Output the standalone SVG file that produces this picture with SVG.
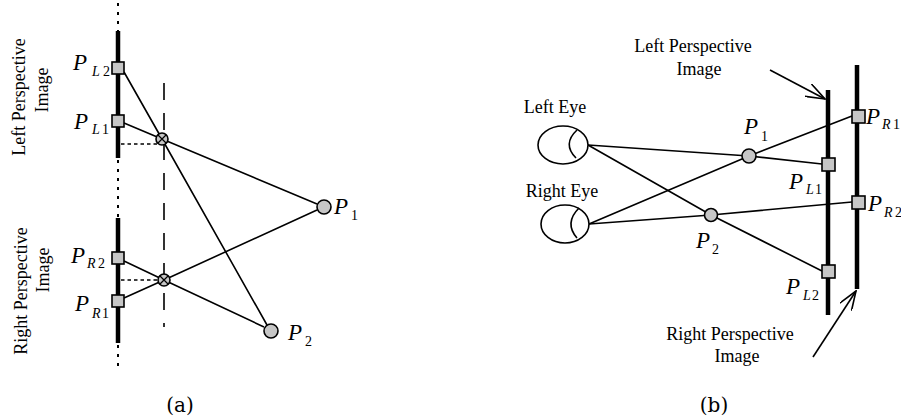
<svg xmlns="http://www.w3.org/2000/svg" width="901" height="419" viewBox="0 0 901 419">
  <style>
    .ln { stroke:#000; stroke-width:1.6; fill:none; }
    .bar { stroke:#000; stroke-width:4.5; fill:none; }
    .dot { stroke:#000; stroke-width:2; stroke-dasharray:3 6; fill:none; }
    .hdot { stroke:#000; stroke-width:1.4; stroke-dasharray:3.5 3; fill:none; }
    .dash { stroke:#000; stroke-width:1.6; stroke-dasharray:17 13; fill:none; }
    .sq { fill:#c6c6c6; stroke:#000; stroke-width:1.6; }
    .pt { fill:#c6c6c6; stroke:#000; stroke-width:1.6; }
    .eye { fill:#fff; stroke:#000; stroke-width:1.6; }
    .lbl { font-family:"Liberation Serif","Times New Roman",serif; font-size:18px; fill:#000; }
    .cap { font-family:"DejaVu Serif","Liberation Serif",serif; font-size:20px; fill:#000; }
    .p { font-family:"Liberation Serif","Times New Roman",serif; font-style:italic; font-size:23px; fill:#000; }
    .s { font-size:14px; }
    .n { font-style:normal; }
  </style>
  <defs>
    <marker id="open" viewBox="0 0 20 14" refX="19" refY="7" markerWidth="20" markerHeight="14" markerUnits="userSpaceOnUse" orient="auto">
      <path d="M0,0 L19,7 L0,14" fill="none" stroke="#000" stroke-width="1.6"/>
    </marker>
    <g id="cross">
      <circle r="6" fill="#c6c6c6" stroke="#000" stroke-width="1.6"/>
      <path d="M-4,-4 L4,4 M-4,4 L4,-4" stroke="#000" stroke-width="1.2"/>
    </g>
  </defs>

  <!-- ===== (a) top view of the two image planes ===== -->
  <g id="a-planes">
    <line class="dot" x1="118" y1="3" x2="118" y2="31"/>
    <line class="bar" x1="118" y1="31" x2="118" y2="158"/>
    <line class="dot" x1="118" y1="160" x2="118" y2="200"/>
    <line class="dot" x1="118" y1="205" x2="118" y2="218"/>
    <line class="bar" x1="118" y1="218" x2="118" y2="343"/>
    <line class="dot" x1="118" y1="345" x2="118" y2="370"/>
    <line class="dash" x1="164" y1="83" x2="164" y2="327"/>
    <text class="lbl" transform="translate(25,97) rotate(-90)" text-anchor="middle">Left Perspective</text>
    <text class="lbl" transform="translate(48,90) rotate(-90)" text-anchor="middle">Image</text>
    <text class="lbl" transform="translate(27,291) rotate(-90)" text-anchor="middle">Right Perspective</text>
    <text class="lbl" transform="translate(49,270) rotate(-90)" text-anchor="middle">Image</text>
    <text class="cap" x="180" y="412" text-anchor="middle">(a)</text>
  </g>

  <g id="a-connectors">
    <polyline class="ln" points="124,123 162,139 317,204"/>
    <polyline class="ln" points="124,72 162,139 267,325"/>
    <polyline class="ln" points="124,261 164,280 264,327"/>
    <polyline class="ln" points="124,298 164,280 317,210"/>
    <line class="hdot" x1="121" y1="144" x2="158" y2="144"/>
    <line class="hdot" x1="121" y1="280" x2="158" y2="280"/>
  </g>

  <g id="a-PL2">
    <rect class="sq" x="112" y="62" width="12" height="12"/>
    <text class="p" x="73" y="70">P<tspan class="s" x="92" y="76">L</tspan><tspan class="s n" x="103" y="76">2</tspan></text>
  </g>
  <g id="a-PL1">
    <rect class="sq" x="112" y="115" width="12" height="12"/>
    <text class="p" x="74" y="129">P<tspan class="s" x="92" y="134">L</tspan><tspan class="s n" x="102" y="134">1</tspan></text>
  </g>
  <g id="a-PR2">
    <rect class="sq" x="112" y="252" width="12" height="12"/>
    <text class="p" x="71" y="263">P<tspan class="s" x="87" y="268">R</tspan><tspan class="s n" x="98" y="268">2</tspan></text>
  </g>
  <g id="a-PR1">
    <rect class="sq" x="112" y="295" width="12" height="12"/>
    <text class="p" x="75" y="311">P<tspan class="s" x="92" y="318">R</tspan><tspan class="s n" x="102" y="318">1</tspan></text>
  </g>
  <g id="a-X1"><use href="#cross" x="162" y="139"/></g>
  <g id="a-X2"><use href="#cross" x="164" y="280"/></g>
  <g id="a-P1">
    <circle class="pt" cx="324" cy="207" r="7"/>
    <text class="p" x="334" y="214">P<tspan class="s n" x="351" y="220">1</tspan></text>
  </g>
  <g id="a-P2">
    <circle class="pt" cx="271" cy="331" r="7"/>
    <text class="p" x="288" y="340">P<tspan class="s n" x="305" y="346">2</tspan></text>
  </g>

  <!-- ===== (b) eyes and image planes ===== -->
  <g id="b-planes">
    <line class="bar" x1="828" y1="90" x2="828" y2="315"/>
    <line class="bar" x1="857" y1="65" x2="857" y2="289"/>
    <text class="lbl" x="693" y="52" text-anchor="middle">Left Perspective</text>
    <text class="lbl" x="699" y="75" text-anchor="middle">Image</text>
    <text class="lbl" x="730" y="340" text-anchor="middle">Right Perspective</text>
    <text class="lbl" x="737" y="362" text-anchor="middle">Image</text>
    <text class="cap" x="714" y="412" text-anchor="middle">(b)</text>
  </g>

  <g id="b-connectors">
    <polyline class="ln" points="588,145 749,156 822,164"/>
    <polyline class="ln" points="588,145 711,215 822,271"/>
    <polyline class="ln" points="589,224 749,156 852,116"/>
    <polyline class="ln" points="589,224 711,215 852,202"/>
    <line class="ln" x1="770" y1="70" x2="825" y2="99" marker-end="url(#open)"/>
    <line class="ln" x1="813" y1="357" x2="856" y2="291" marker-end="url(#open)"/>
  </g>

  <g id="b-left-eye">
    <ellipse class="eye" cx="563" cy="145" rx="25" ry="19"/>
    <path class="ln" d="M577,130 Q562,144 576,158"/>
    <text class="lbl" x="555" y="113" text-anchor="middle">Left Eye</text>
  </g>
  <g id="b-right-eye">
    <ellipse class="eye" cx="565" cy="224" rx="24" ry="19"/>
    <path class="ln" d="M579,208 Q564,223 577,238"/>
    <text class="lbl" x="562" y="197" text-anchor="middle">Right Eye</text>
  </g>
  <g id="b-P1">
    <circle class="pt" cx="749" cy="156" r="7"/>
    <text class="p" x="744" y="134">P<tspan class="s n" x="761" y="141">1</tspan></text>
  </g>
  <g id="b-P2">
    <circle class="pt" cx="711" cy="215" r="6.5"/>
    <text class="p" x="696" y="248">P<tspan class="s n" x="712" y="254">2</tspan></text>
  </g>
  <g id="b-PL1">
    <rect class="sq" x="822" y="158" width="13" height="13"/>
    <text class="p" x="789" y="189">P<tspan class="s" x="806" y="194">L</tspan><tspan class="s n" x="815" y="194">1</tspan></text>
  </g>
  <g id="b-PL2">
    <rect class="sq" x="822" y="265" width="13" height="13"/>
    <text class="p" x="786" y="294">P<tspan class="s" x="803" y="300">L</tspan><tspan class="s n" x="812" y="300">2</tspan></text>
  </g>
  <g id="b-PR1">
    <rect class="sq" x="852" y="110" width="13" height="13"/>
    <text class="p" x="866" y="124">P<tspan class="s" x="882" y="129">R</tspan><tspan class="s n" x="893" y="129">1</tspan></text>
  </g>
  <g id="b-PR2">
    <rect class="sq" x="852" y="196" width="13" height="13"/>
    <text class="p" x="868" y="211">P<tspan class="s" x="884" y="217">R</tspan><tspan class="s n" x="895" y="217">2</tspan></text>
  </g>
</svg>
